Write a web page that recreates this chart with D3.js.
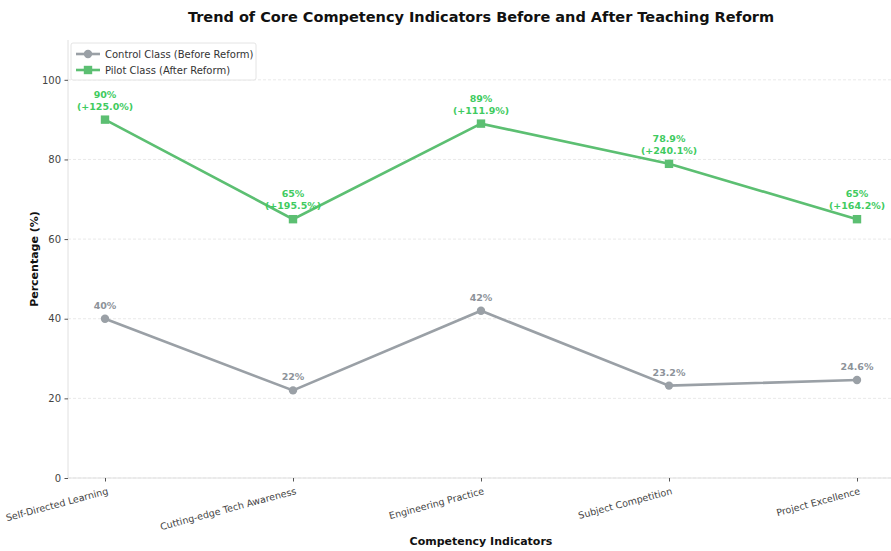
<!DOCTYPE html>
<html><head><meta charset="utf-8">
<script src="https://cdn.jsdelivr.net/npm/d3@7"></script>
<style>body{margin:0;background:#fff;}svg{display:block;font-family:"DejaVu Sans",sans-serif;}</style>
</head><body><svg id="c" width="891" height="551"></svg>
<script>
const categories = ["Self-Directed Learning","Cutting-edge Tech Awareness","Engineering Practice","Subject Competition","Project Excellence"];
const controlValues = [40, 22, 42, 23.2, 24.6];
const pilotValues = [90, 65, 89, 78.9, 65];
const pilotLabels = ["90%","65%","89%","78.9%","65%"];
const controlLabels = ["40%","22%","42%","23.2%","24.6%"];
const growthLabels = ["(+125.0%)","(+195.5%)","(+111.9%)","(+240.1%)","(+164.2%)"];
const yTicks = [0,20,40,60,80,100];

const svg = d3.select("#c");
const L = 68, R = 894.6, T = 40, B = 478;
const x = d3.scalePoint().domain(categories).range([105, 857]);
const y = d3.scaleLinear().domain([0,110]).range([B, T]);
const grayC = "#9aa0a6", greenC = "#5cbf72", greenT = "#3fcb5f", grayT = "#8d939a";

// grid
svg.append("g").selectAll("line").data(yTicks).join("line")
  .attr("x1", L).attr("x2", R).attr("y1", d=>y(d)).attr("y2", d=>y(d))
  .attr("stroke", "#e3e3e3").attr("stroke-width", 0.8).attr("stroke-dasharray", "3,2");

// spines
svg.append("line").attr("x1", L).attr("x2", L).attr("y1", T).attr("y2", B).attr("stroke", "#e0e0e0").attr("stroke-width", 1);
svg.append("line").attr("x1", L).attr("x2", R).attr("y1", B).attr("y2", B).attr("stroke", "#e0e0e0").attr("stroke-width", 1);

// y axis
const ya = svg.append("g").attr("transform", `translate(${L},0)`)
  .call(d3.axisLeft(y).tickValues(yTicks).tickSize(3.5).tickPadding(3.5));
ya.select(".domain").remove();
ya.selectAll(".tick line").attr("stroke", "#555");
ya.selectAll("text").attr("font-size", 10).attr("fill", "#444").attr("font-family", "DejaVu Sans");

// x axis
const xa = svg.append("g").attr("transform", `translate(0,${B})`)
  .call(d3.axisBottom(x).tickSize(3.5).tickPadding(6));
xa.select(".domain").remove();
xa.selectAll(".tick line").attr("stroke", "#555");
xa.selectAll("text").attr("font-size", 9.5).attr("fill", "#444").attr("font-family", "DejaVu Sans")
  .attr("text-anchor", "end").attr("dy", "0.71em").attr("dx", "-1")
  .attr("transform", "rotate(-15)");

// lines
const line = d3.line().x((d,i)=>x(categories[i])).y(d=>y(d));
svg.append("path").datum(controlValues).attr("d", line).attr("fill","none").attr("stroke", grayC).attr("stroke-width", 2.6);
svg.append("path").datum(pilotValues).attr("d", line).attr("fill","none").attr("stroke", greenC).attr("stroke-width", 2.6);

svg.append("g").selectAll("circle").data(controlValues).join("circle")
  .attr("cx", (d,i)=>x(categories[i])).attr("cy", d=>y(d)).attr("r", 4.2).attr("fill", grayC);
svg.append("g").selectAll("rect").data(pilotValues).join("rect")
  .attr("x", (d,i)=>x(categories[i])-4.2).attr("y", d=>y(d)-4.2).attr("width", 8.4).attr("height", 8.4).attr("fill", greenC);

// labels
svg.append("g").selectAll("text").data(controlValues).join("text")
  .attr("x", (d,i)=>x(categories[i])).attr("y", d=>y(d)-10)
  .attr("text-anchor","middle").attr("font-size", 9.5).attr("font-weight","bold").attr("fill", grayT)
  .text((d,i)=>controlLabels[i]);
const pl = svg.append("g").selectAll("text").data(pilotValues).join("text")
  .attr("x", (d,i)=>x(categories[i])).attr("y", d=>y(d)-22)
  .attr("text-anchor","middle").attr("font-size", 9.5).attr("font-weight","bold").attr("fill", greenT);
pl.append("tspan").attr("x",(d,i)=>x(categories[i])).text((d,i)=>pilotLabels[i]);
pl.append("tspan").attr("x",(d,i)=>x(categories[i])).attr("dy", 12).text((d,i)=>growthLabels[i]);

// legend
const lg = svg.append("g");
lg.append("rect").attr("x", 71).attr("y", 43).attr("width", 185).attr("height", 37).attr("rx", 2)
  .attr("fill", "#fff").attr("fill-opacity", 0.85).attr("stroke", "#ddd").attr("stroke-width", 0.8);
const items = [{t:"Control Class (Before Reform)", c:grayC, m:"circle"},{t:"Pilot Class (After Reform)", c:greenC, m:"square"}];
items.forEach((it, i) => {
  const yy = 54 + i*16;
  lg.append("line").attr("x1", 76).attr("x2", 100).attr("y1", yy).attr("y2", yy).attr("stroke", it.c).attr("stroke-width", 2.6);
  if (it.m === "circle") lg.append("circle").attr("cx", 88).attr("cy", yy).attr("r", 4.2).attr("fill", it.c);
  else lg.append("rect").attr("x", 83.8).attr("y", yy-4.2).attr("width", 8.4).attr("height", 8.4).attr("fill", it.c);
  lg.append("text").attr("x", 105).attr("y", yy).attr("dy","0.35em").attr("font-size", 10).attr("fill", "#333").text(it.t);
});

// titles
svg.append("text").attr("x", 481).attr("y", 22).attr("text-anchor","middle").attr("font-size", 14.5).attr("font-weight","bold").attr("fill","#111")
  .text("Trend of Core Competency Indicators Before and After Teaching Reform");
svg.append("text").attr("x", 481).attr("y", 545).attr("text-anchor","middle").attr("font-size", 11).attr("font-weight","bold").attr("fill","#111")
  .text("Competency Indicators");
svg.append("text").attr("transform", `translate(38,${(T+B)/2}) rotate(-90)`).attr("text-anchor","middle").attr("font-size", 11).attr("font-weight","bold").attr("fill","#111")
  .text("Percentage (%)");
</script></body></html>
